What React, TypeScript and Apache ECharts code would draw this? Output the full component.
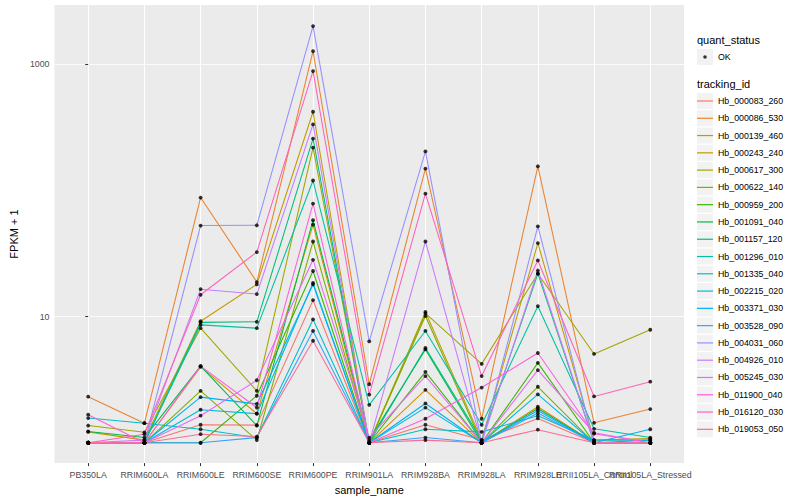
import React, { useEffect, useRef } from "react";
import * as echarts from "echarts";

const categories = [
  "PB350LA", "RRIM600LA", "RRIM600LE", "RRIM600SE", "RRIM600PE", "RRIM901LA",
  "RRIM928BA", "RRIM928LA", "RRIM928LE", "RRII105LA_Control", "RRII105LA_Stressed",
];

const trackingIds = [
  "Hb_000083_260", "Hb_000086_530", "Hb_000139_460", "Hb_000243_240", "Hb_000617_300",
  "Hb_000622_140", "Hb_000959_200", "Hb_001091_040", "Hb_001157_120", "Hb_001296_010",
  "Hb_001335_040", "Hb_002215_020", "Hb_003371_030", "Hb_003528_090", "Hb_004031_060",
  "Hb_004926_010", "Hb_005245_030", "Hb_011900_040", "Hb_016120_030", "Hb_019053_050",
];

const colors = [
  "#F8766D", "#EA8331", "#D89000", "#C09B00", "#A3A500", "#7CAE00", "#39B600", "#00BB4E",
  "#00BF7D", "#00C1A3", "#00BFC4", "#00BAE0", "#00B0F6", "#35A2FF", "#9590FF", "#C77CFF",
  "#E76BF3", "#FA62DB", "#FF62BC", "#FF6C91",
];

// FPKM + 1 per sample, in the order of `categories`
const hb_000083_260 = [1.0, 1.0, 1.39, 1.38, 13.5, 1.0, 1.39, 1.05, 1.56, 1.0, 1.0];
const hb_000086_530 = [2.32, 1.43, 87.9, 18.8, 1271, 2.91, 149, 1.55, 155.6, 1.44, 1.85];
const hb_000139_460 = [1.0, 1.0, 4.0, 1.7, 53.6, 1.0, 2.63, 1.0, 1.93, 1.0, 1.0];
const hb_000243_240 = [1.22, 1.05, 9.2, 18.0, 421, 1.0, 10.9, 1.05, 38.3, 1.05, 1.08];
const hb_000617_300 = [1.37, 1.21, 8.1, 2.58, 219, 1.0, 10.6, 4.22, 21.9, 5.06, 7.87];
const hb_000622_140 = [1.0, 1.0, 2.58, 1.05, 39.4, 1.0, 10.1, 1.0, 2.78, 1.0, 1.0];
const hb_000959_200 = [1.0, 1.0, 1.0, 2.36, 23.0, 1.0, 3.65, 1.0, 4.3, 1.0, 1.0];
const hb_001091_040 = [1.23, 1.1, 4.05, 1.37, 58.2, 1.05, 5.5, 1.0, 1.87, 1.0, 1.0];
const hb_001157_120 = [1.0, 1.0, 9.0, 9.1, 258, 1.0, 5.64, 1.05, 21.9, 1.0, 1.0];
const hb_001296_010 = [1.0, 1.0, 8.6, 8.1, 120, 2.0, 7.7, 1.39, 12.1, 1.29, 1.1];
const hb_001335_040 = [1.57, 1.43, 1.28, 1.1, 9.5, 1.0, 1.28, 1.22, 1.64, 1.05, 1.05];
const hb_002215_020 = [1.0, 1.0, 1.83, 1.7, 18.5, 1.0, 1.9, 1.0, 2.42, 1.0, 1.05];
const hb_003371_030 = [1.0, 1.0, 2.3, 2.03, 18.0, 1.0, 2.05, 1.0, 1.8, 1.0, 1.28];
const hb_003528_090 = [1.0, 1.0, 1.0, 1.1, 7.7, 1.0, 1.1, 1.0, 1.72, 1.0, 1.0];
const hb_004031_060 = [1.0, 1.0, 52.7, 53.0, 2012, 6.37, 204, 1.0, 52.0, 1.0, 1.0];
const hb_004926_010 = [1.0, 1.05, 16.5, 15.1, 334, 1.0, 39.4, 1.0, 23.2, 1.0, 1.0];
const hb_005245_030 = [1.0, 1.0, 1.64, 3.13, 28.2, 1.1, 3.38, 1.0, 3.77, 1.2, 1.0];
const hb_011900_040 = [1.67, 1.0, 4.05, 1.9, 78.7, 1.0, 1.55, 2.74, 5.15, 1.18, 1.0];
const hb_016120_030 = [1.0, 1.17, 14.9, 32.5, 885, 2.41, 94.4, 3.38, 27.9, 2.33, 3.05];
const hb_019053_050 = [1.0, 1.0, 1.17, 1.12, 6.44, 1.0, 1.05, 1.0, 1.27, 1.0, 1.0];

const seriesValues = [
  hb_000083_260, hb_000086_530, hb_000139_460, hb_000243_240, hb_000617_300,
  hb_000622_140, hb_000959_200, hb_001091_040, hb_001157_120, hb_001296_010,
  hb_001335_040, hb_002215_020, hb_003371_030, hb_003528_090, hb_004031_060,
  hb_004926_010, hb_005245_030, hb_011900_040, hb_016120_030, hb_019053_050,
];

const yLabelValues = [10, 1000];
const quantStatus = ["OK"];

const FONT = "'Liberation Sans', Arial, Helvetica, sans-serif";
const LEG_LEFT = 697;
const LEG_TOP = 93;
const KEY = 16;
const KEY_GAP = 1.28;
const OK_TOP = 49;

export default function App() {
  const ref = useRef<HTMLDivElement>(null);

  useEffect(() => {
    if (!ref.current) return;
    const chart = echarts.init(ref.current, null, { renderer: "svg" });

    const lineSeries = trackingIds.map((id, k) => ({
      name: id,
      type: "line",
      data: seriesValues[k].map((v, i) => [i, v]),
      showSymbol: false,
      symbol: "none",
      silent: true,
      z: 2,
      lineStyle: { width: 1.07, color: colors[k] },
      itemStyle: { color: colors[k] },
    }));

    const points: number[][] = [];
    seriesValues.forEach((arr) => arr.forEach((v, i) => points.push([i, v])));

    const isPow = (v: number, p: number) => Math.abs(Math.log10(v) - p) < 1e-6;

    const keyRects = trackingIds.map((_, k) => ({
      type: "rect",
      left: LEG_LEFT,
      top: LEG_TOP + k * (KEY + KEY_GAP),
      shape: { width: KEY, height: KEY },
      style: { fill: "#F2F2F2" },
      z: -1,
    }));

    const option: any = {
      animation: false,
      backgroundColor: "#FFFFFF",
      textStyle: { fontFamily: FONT },
      grid: {
        left: 45,
        right: 116,
        top: 5,
        bottom: 32,
        show: true,
        backgroundColor: "#EBEBEB",
        borderWidth: 0,
      },
      xAxis: {
        type: "value",
        min: -0.6,
        max: categories.length - 0.4,
        minInterval: 1,
        maxInterval: 1,
        splitNumber: categories.length,
        name: "sample_name",
        nameLocation: "middle",
        nameGap: 12,
        nameTextStyle: { fontSize: 11, color: "#000000", fontFamily: FONT },
        axisLine: { show: false },
        axisTick: {
          show: true,
          length: 3,
          lineStyle: { color: "#333333", width: 1 },
          customValues: categories.map((_, i) => i),
        },
        axisLabel: {
          fontSize: 8.8,
          color: "#4D4D4D",
          fontFamily: FONT,
          margin: 7,
          showMinLabel: true,
          showMaxLabel: true,
          hideOverlap: false,
          formatter: (v: number) => {
            const i = Math.round(v);
            return Math.abs(v - i) < 1e-6 && categories[i] ? categories[i] : "";
          },
        },
        splitLine: { show: true, lineStyle: { color: "#FFFFFF", width: 1.07 } },
      },
      yAxis: {
        type: "log",
        logBase: 10,
        min: 0.69,
        max: 2955,
        name: "FPKM + 1",
        nameLocation: "middle",
        nameRotate: 90,
        nameGap: 33,
        nameTextStyle: { fontSize: 11, color: "#000000", fontFamily: FONT },
        axisLine: { show: false },
        axisTick: {
          show: true,
          length: 3,
          lineStyle: { color: "#333333", width: 1 },
          customValues: yLabelValues,
        },
        axisLabel: {
          fontSize: 8.8,
          color: "#4D4D4D",
          fontFamily: FONT,
          margin: 5,
          customValues: yLabelValues,
          formatter: (v: number) =>
            yLabelValues.some((t) => isPow(v, Math.log10(t))) ? String(Math.round(v)) : "",
        },
        splitLine: { show: true, lineStyle: { color: "#FFFFFF", width: 0.8 } },
      },
      legend: [
        {
          data: quantStatus.map((q) => ({
            name: q,
            icon: "path://M0,0 M16,16 M6.2,8 A1.8,1.8 0 1 1 9.8,8 A1.8,1.8 0 1 1 6.2,8 Z",
          })),
          orient: "vertical",
          left: LEG_LEFT,
          top: OK_TOP,
          padding: 0,
          itemWidth: KEY,
          itemHeight: KEY,
          selectedMode: false,
          textStyle: { fontSize: 8.8, color: "#000000", fontFamily: FONT },
        },
        {
          data: trackingIds.map((id) => ({
            name: id,
            icon: "path://M0,0 M16,16 M0,7.4 L16,7.4 L16,8.6 L0,8.6 Z",
          })),
          orient: "vertical",
          left: LEG_LEFT,
          top: LEG_TOP,
          padding: 0,
          itemWidth: KEY,
          itemHeight: KEY,
          itemGap: KEY_GAP,
          selectedMode: false,
          textStyle: { fontSize: 8.8, color: "#000000", fontFamily: FONT },
        },
      ],
      graphic: [
        {
          type: "rect",
          left: LEG_LEFT,
          top: OK_TOP,
          shape: { width: KEY, height: KEY },
          style: { fill: "#F2F2F2" },
          z: -1,
        },
        ...keyRects,
        {
          type: "text",
          left: LEG_LEFT,
          top: 34,
          style: { text: "quant_status", fontSize: 11, fill: "#000000", fontFamily: FONT },
        },
        {
          type: "text",
          left: LEG_LEFT,
          top: 78,
          style: { text: "tracking_id", fontSize: 11, fill: "#000000", fontFamily: FONT },
        },
      ],
      series: [
        ...lineSeries,
        {
          name: quantStatus[0],
          type: "scatter",
          data: points,
          symbol: "circle",
          symbolSize: 3.8,
          silent: true,
          z: 3,
          itemStyle: { color: "#000000" },
        },
      ],
    };

    chart.setOption(option);
    return () => chart.dispose();
  }, []);

  return (
    <div
      ref={ref}
      style={{ position: "fixed", left: 0, top: 0, width: 800, height: 500 }}
    />
  );
}
